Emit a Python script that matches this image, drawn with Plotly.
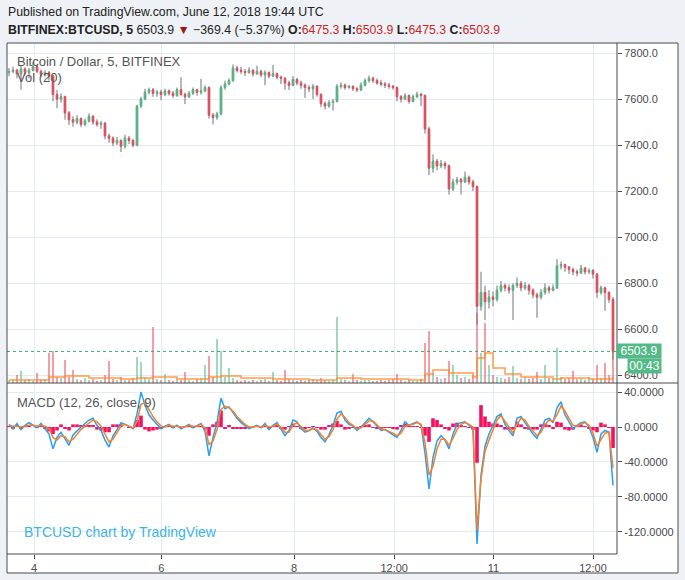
import plotly.graph_objects as go

W, H = 685, 580

# ---------------- data ----------------
first_open = 7715
close = [7720,7725,7710,7730,7715,7725,7740,7720,7705,7715,
         7700,7620,7600,7610,7540,7510,7500,7515,7490,7505,
         7525,7500,7490,7495,7440,7430,7410,7420,7395,7430,
         7420,7400,7570,7600,7630,7640,7625,7630,7620,7635,
         7625,7615,7640,7620,7610,7625,7640,7630,7635,7650,
         7530,7520,7535,7650,7665,7680,7735,7725,7720,7715,
         7725,7710,7720,7705,7715,7700,7710,7695,7690,7670,
         7660,7685,7670,7660,7650,7645,7655,7620,7580,7570,
         7585,7590,7655,7660,7650,7655,7645,7640,7660,7680,
         7690,7680,7670,7665,7660,7655,7650,7610,7600,7615,
         7590,7610,7620,7615,7470,7300,7330,7310,7320,7310,
         7210,7240,7250,7240,7260,7240,7220,6700,6760,6720,
         6740,6730,6770,6790,6780,6770,6790,6800,6780,6790,
         6770,6750,6740,6760,6780,6770,6780,6875,6880,6870,
         6860,6850,6845,6865,6850,6855,6840,6760,6780,6760,
         6730,6503.9]
high = [7735,7740,7732,7745,7738,7735,7760,7748,7728,7725,
        7722,7705,7640,7625,7615,7548,7525,7530,7520,7515,
        7538,7530,7512,7505,7500,7450,7438,7435,7425,7445,
        7440,7428,7575,7610,7645,7650,7648,7640,7640,7645,
        7642,7635,7650,7695,7628,7635,7650,7645,7688,7660,
        7655,7540,7545,7660,7680,7690,7750,7745,7740,7730,
        7738,7730,7745,7728,7725,7720,7748,7715,7702,7695,
        7680,7700,7692,7680,7668,7660,7665,7660,7625,7590,
        7595,7600,7665,7672,7668,7662,7660,7652,7672,7690,
        7702,7698,7690,7682,7675,7670,7662,7655,7618,7625,
        7620,7620,7632,7628,7620,7480,7360,7340,7335,7330,
        7315,7255,7262,7258,7285,7268,7250,7225,6850,6790,
        6770,6765,6790,6810,6800,6795,6800,6825,6810,6805,
        6798,6778,6760,6775,6800,6790,6795,6905,6895,6885,
        6875,6868,6860,6880,6872,6865,6862,6845,6790,6785,
        6765,6740]
low = [7700,7712,7690,7640,7705,7690,7720,7712,7695,7698,
       7680,7590,7560,7585,7510,7487,7480,7490,7478,7482,
       7498,7488,7480,7470,7425,7410,7395,7400,7370,7385,
       7405,7390,7395,7560,7595,7620,7610,7610,7595,7612,
       7615,7605,7610,7612,7578,7605,7618,7615,7620,7630,
       7515,7490,7510,7530,7640,7660,7675,7715,7708,7700,
       7710,7698,7705,7695,7660,7690,7695,7685,7665,7640,
       7640,7655,7660,7645,7605,7630,7600,7610,7565,7555,
       7562,7550,7585,7645,7640,7645,7635,7630,7635,7655,
       7672,7670,7662,7655,7648,7645,7640,7590,7585,7595,
       7580,7585,7605,7570,7450,7270,7280,7290,7300,7295,
       7185,7200,7228,7185,7235,7228,7200,6620,6680,6640,
       6690,6700,6720,6760,6765,6755,6640,6780,6765,6770,
       6750,6735,6650,6730,6750,6755,6765,6775,6860,6850,
       6840,6835,6830,6840,6838,6840,6820,6735,6750,6680,
       6715,6470]
volume = [3,4,8,12,3,4,2,10,3,4,
          30,32,6,5,23,6,13,4,3,5,
          3,4,2,3,8,22,4,3,6,3,
          3,5,26,21,6,4,56,4,3,9,
          3,2,4,3,11,3,2,4,5,18,
          27,6,44,32,6,15,5,3,2,3,
          2,3,2,3,4,2,11,3,2,13,
          4,3,2,3,2,3,4,3,5,3,
          2,3,66,4,3,2,9,3,2,3,
          3,2,2,3,2,3,4,9,3,2,
          3,2,2,4,40,52,10,6,4,5,
          22,18,8,5,6,4,8,70,30,60,
          18,8,6,5,4,6,17,5,4,6,
          4,5,11,4,18,5,4,35,6,4,
          5,12,4,5,3,6,4,18,5,20,
          8,65]
vol_ma_idx = [0,8,10,14,20,28,32,36,42,50,53,58,66,75,82,88,100,
              104,106,110,116,117,119,121,124,128,136,138,145,151]
vol_ma = [3,3,6,7,5,4,5,6,4,6,7,5,4,3,5,4,3,
          9,13,10,6,25,30,15,9,6,4,5,4,6]
macd = [3,-2,4,-3,2,5,2,-1,4,-2,
        -8,-25,-12,-6,-14,-21,-9,-4,0,4,
        8,10,2,-4,-15,-23,-10,-3,5,3,
        0,-2,15,40,25,14,8,3,-2,1,
        3,-1,2,-2,1,3,-1,2,4,-5,
        -33,-12,5,33,21,23,16,10,5,1,
        -2,0,2,-1,4,-3,2,5,-3,-10,
        -4,8,6,-2,-6,-4,-1,-5,-12,-17,
        -9,2,16,18,8,3,1,-4,0,5,
        10,6,1,-4,-3,-6,-9,-12,-4,6,
        2,4,6,2,-30,-71,-35,-16,-10,-15,
        -25,-8,3,5,6,2,-2,-134,-55,-22,
        -8,2,12,15,3,-4,-10,10,12,5,
        -2,-8,-13,-2,8,10,5,22,29,14,
        6,-2,2,5,6,0,-12,-29,-8,-4,
        -6,-67]
signal = [2,1,1,0,1,2,2,1,2,1,
          -2,-12,-15,-10,-11,-17,-14,-8,-3,1,
          5,8,6,1,-8,-17,-14,-7,1,3,
          1,-1,6,26,28,20,12,6,1,0,
          2,1,1,0,0,2,1,1,3,-1,
          -20,-16,-3,20,24,22,18,12,7,3,
          0,0,1,0,2,0,1,3,0,-6,
          -6,2,5,1,-4,-4,-2,-3,-8,-14,
          -11,-3,9,15,11,5,2,-2,-1,3,
          7,7,3,-2,-3,-5,-7,-10,-7,1,
          2,3,5,3,-18,-55,-45,-25,-14,-14,
          -21,-13,-3,3,5,3,0,-118,-60,-28,
          -15,-3,8,13,7,0,-7,3,10,8,
          1,-5,-10,-6,3,8,7,14,24,18,
          10,2,1,3,5,2,-7,-22,-14,-7,
          -6,-47]
hist = [1,-2,2,-2,1,2,0,-1,2,-2,
        -5,-8,-4,3,-2,-4,3,3,2,2,
        2,2,-3,-4,-6,-6,3,3,3,0,
        -1,-1,8,13,-3,-5,-4,-3,-2,1,
        1,-1,1,-1,1,1,-1,1,1,-3,
        -10,3,6,19,-2,2,-2,-2,-2,-2,
        -1,0,1,-1,2,-2,1,2,-2,-3,
        1,4,1,-2,-2,-1,1,-1,-3,-3,
        2,4,7,3,-3,-2,-1,-2,1,2,
        3,-1,-2,-3,-1,-1,-2,-3,2,4,
        1,1,1,-1,-10,-17,10,8,3,-2,
        -4,4,5,2,1,-1,-3,-41,25,12,
        6,4,4,2,-3,-3,-3,6,3,-2,
        -3,-3,-3,3,4,2,-2,6,5,-3,
        -4,-3,1,2,1,-2,-4,-6,5,3,
        -1,-24]

tick_positions = [6.25, 38.1, 71.25, 96.3, 121.1, 146.0]
tick_labels = ["4", "6", "8", "12:00", "11", "12:00"]
price_ticks = [6400, 6600, 6800, 7000, 7200, 7400, 7600, 7800]
price_tick_labels = ["6400.0", "6600.0", "6800.0", "7000.0", "7200.0", "7400.0", "7600.0", "7800.0"]
macd_ticks = [40, 0, -40, -80, -120]
macd_tick_labels = ["40.0000", "0.0000", "-40.0000", "-80.0000", "-120.0000"]
last_price = 6503.9
countdown = "00:43"

n = len(close)
for arr in (high, low, volume, macd, signal, hist):
    assert len(arr) == n, len(arr)

idx = list(range(n))
opn = [first_open] + close[:-1]
body_hi = [max(o, c) for o, c in zip(opn, close)]
body_lo = [min(o, c) for o, c in zip(opn, close)]

UP, DOWN, WICK = "#53b987", "#eb4d5c", "#737375"
GRID = "#e4ebf2"
FRAME = "#4a4a4a"
TXT = "#4a4a4a"
FONT = "Liberation Sans, Arial, sans-serif"

vol_colors = ["rgba(83,185,135,0.6)" if c >= o else "rgba(235,77,92,0.6)"
              for o, c in zip(opn, close)]

def px(x):
    return x / W

def py(y):
    return 1 - y / H

# pane geometry (pixels)
L, R_PLOT, R_FRAME = 7, 617, 678
TOP, SEP, MBOT, BOT = 43, 383, 554, 573

fig = go.Figure()

# volume (base axis, drawn behind price)
fig.add_trace(go.Bar(x=idx, y=volume, marker=dict(color=vol_colors, line=dict(width=0)),
                     width=0.45, xaxis="x", yaxis="y", hoverinfo="skip"))
fig.add_trace(go.Scatter(x=vol_ma_idx, y=vol_ma, mode="lines",
                         line=dict(color="rgba(255,140,40,0.85)", width=1.5, shape="hv"),
                         xaxis="x", yaxis="y", hoverinfo="skip"))

# wicks
fig.add_trace(go.Candlestick(x=idx, open=opn, high=high, low=low, close=close,
                             increasing=dict(line=dict(color=WICK, width=1), fillcolor=WICK),
                             decreasing=dict(line=dict(color=WICK, width=1), fillcolor=WICK),
                             xaxis="x", yaxis="y3", hoverinfo="skip", whiskerwidth=0))
# bodies
fig.add_trace(go.Candlestick(x=idx, open=opn, high=body_hi, low=body_lo, close=close,
                             increasing=dict(line=dict(color=UP, width=1), fillcolor=UP),
                             decreasing=dict(line=dict(color=DOWN, width=1), fillcolor=DOWN),
                             xaxis="x", yaxis="y3", hoverinfo="skip", whiskerwidth=0))

# MACD pane
fig.add_trace(go.Bar(x=idx, y=hist, marker=dict(color="#f7105f", line=dict(width=0)), width=0.9,
                     xaxis="x2", yaxis="y2", hoverinfo="skip"))
fig.add_trace(go.Scatter(x=idx, y=macd, mode="lines", line=dict(color="#2a9df4", width=1.5),
                         xaxis="x2", yaxis="y2", hoverinfo="skip"))
fig.add_trace(go.Scatter(x=idx, y=signal, mode="lines", line=dict(color="#f5822a", width=1.5),
                         xaxis="x2", yaxis="y2", hoverinfo="skip"))

xdom = [px(L), px(R_PLOT)]
price_dom = [py(SEP), py(TOP)]
macd_dom = [py(MBOT), py(SEP + 1)]

# price range from pixel calibration: 7800 @ y53, 6600 @ y329.3
dpp = 1200 / (329.3 - 53)
p_top = 7800 + (53 - TOP) * dpp
p_bot = 6600 - (SEP - 329.3) * dpp
# macd calibration: 0 @ 427, 40 per 34.9 px
mpp = 160 / (532 - 392.3)
m_top = (427 - (SEP + 1)) * mpp
m_bot = -(MBOT - 427) * mpp

axis_font = dict(family=FONT, size=11, color=TXT)

fig.update_layout(
    template="none",
    width=W, height=H, margin=dict(l=0, r=0, t=0, b=0, pad=0, autoexpand=False),
    paper_bgcolor="#eef1f5", plot_bgcolor="white",
    showlegend=False, boxgap=0.5,
    xaxis=dict(domain=xdom, range=[-0.5, n], anchor="y", showticklabels=False, automargin=False,
               tickvals=tick_positions, showgrid=True, gridcolor=GRID, gridwidth=1, zeroline=False,
               showline=False, rangeslider=dict(visible=False), ticks=""),
    xaxis2=dict(domain=xdom, range=[-0.5, n], anchor="y2", matches="x", automargin=False,
                tickvals=tick_positions, ticktext=tick_labels, tickfont=axis_font,
                ticks="outside", ticklen=4, tickcolor=FRAME, showgrid=True, gridcolor=GRID, gridwidth=1,
                zeroline=False, showline=False, rangeslider=dict(visible=False)),
    yaxis=dict(domain=price_dom, range=[0, SEP - TOP], visible=False, anchor="x", automargin=False,
               showgrid=False, zeroline=False),
    yaxis3=dict(overlaying="y", anchor="x", side="right", range=[p_bot, p_top], automargin=False,
                tickvals=price_ticks, ticktext=price_tick_labels, tickfont=axis_font,
                ticks="outside", ticklen=4, tickcolor=FRAME, showgrid=True, gridcolor=GRID, gridwidth=1,
                zeroline=False, showline=False),
    yaxis2=dict(domain=macd_dom, anchor="x2", side="right", range=[m_bot, m_top], automargin=False,
                tickvals=macd_ticks, ticktext=macd_tick_labels, tickfont=axis_font,
                ticks="outside", ticklen=4, tickcolor=FRAME, showgrid=True, gridcolor=GRID, gridwidth=1,
                zeroline=False, showline=False),
)

shapes = [
    dict(type="rect", xref="paper", yref="paper", x0=px(L), x1=px(R_FRAME), y0=py(BOT), y1=py(TOP),
         fillcolor="white", line=dict(width=0), layer="below"),
    dict(type="line", xref="x domain", yref="y3", x0=0, x1=1, y0=last_price, y1=last_price,
         line=dict(color="#3aa873", width=1, dash="dot")),
    dict(type="line", xref="paper", yref="paper", x0=px(L), x1=px(R_FRAME), y0=py(SEP), y1=py(SEP),
         line=dict(color=FRAME, width=1)),
    dict(type="line", xref="paper", yref="paper", x0=px(L), x1=px(R_PLOT), y0=py(MBOT), y1=py(MBOT),
         line=dict(color=FRAME, width=1)),
    dict(type="line", xref="paper", yref="paper", x0=px(R_PLOT), x1=px(R_PLOT), y0=py(MBOT), y1=py(TOP),
         line=dict(color=FRAME, width=1)),
    dict(type="rect", xref="paper", yref="paper", x0=px(L), x1=px(R_FRAME), y0=py(BOT), y1=py(TOP),
         fillcolor="rgba(0,0,0,0)", line=dict(color=FRAME, width=1)),
]
fig.update_layout(shapes=shapes)

RED = "#c62828"
header2 = ("<b>BITFINEX:BTCUSD, 5</b> 6503.9 <span style='color:#a31515'>▼</span> −369.4 (−5.37%) "
           f"<b>O:</b><span style='color:{RED}'>6475.3</span> "
           f"<b>H:</b><span style='color:{RED}'>6503.9</span> "
           f"<b>L:</b><span style='color:{RED}'>6475.3</span> "
           f"<b>C:</b><span style='color:{RED}'>6503.9</span>")

ann = [
    dict(text="Published on TradingView.com, June 12, 2018 19:44 UTC", x=px(6), y=py(12),
         font=dict(family=FONT, size=12.3, color="#222")),
    dict(text=header2, x=px(6), y=py(30), font=dict(family=FONT, size=12.3, color="#222")),
    dict(text="Bitcoin / Dollar, 5, BITFINEX", x=px(15), y=py(61),
         font=dict(family=FONT, size=13, color="#555")),
    dict(text="Vol (20)", x=px(15), y=py(78), font=dict(family=FONT, size=13, color="#555")),
    dict(text="MACD (12, 26, close, 9)", x=px(15), y=py(402),
         font=dict(family=FONT, size=13, color="#555")),
    dict(text="BTCUSD chart by TradingView", x=px(22), y=py(532),
         font=dict(family=FONT, size=14, color="#3db4e6")),
]
for a in ann:
    a.update(xref="paper", yref="paper", xanchor="left", yanchor="middle", showarrow=False)

ann.append(dict(text=f"{last_price:.1f}", xref="paper", yref="y3", x=px(616), y=last_price,
                xanchor="left", yanchor="middle", showarrow=False, bgcolor=UP, width=42, height=12,
                borderpad=1, font=dict(family=FONT, size=12, color="white")))
ann.append(dict(text=countdown, xref="paper", yref="paper", x=px(627), y=py(365.5),
                xanchor="left", yanchor="middle", showarrow=False, bgcolor=UP, width=31, height=12,
                borderpad=1, font=dict(family=FONT, size=12, color="white")))
fig.update_layout(annotations=ann)

fig.write_html("out.html", config={"displayModeBar": False},
               post_script="document.body.style.margin='0px';document.body.style.padding='0px';")
